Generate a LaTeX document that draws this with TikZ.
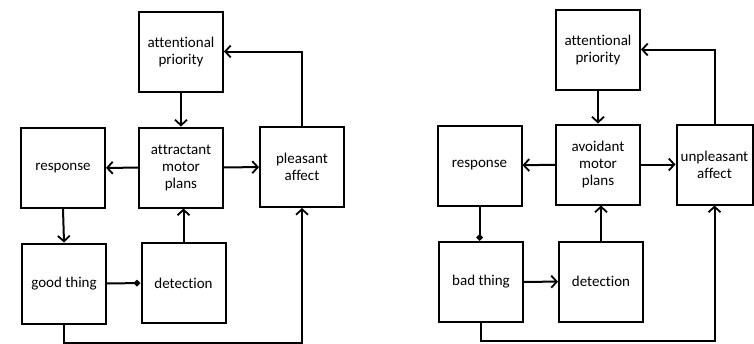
\documentclass[tikz,border=0pt]{standalone}
\usepackage{fontspec}
\setmainfont{Carlito}[Ligatures={NoCommon}]
\usetikzlibrary{arrows.meta}
\begin{document}
\begin{tikzpicture}[x=1pt,y=-1pt,
  box/.style={draw, line width=2pt, minimum width=84pt, minimum height=80pt, inner sep=1pt,
    align=center, font=\fontsize{15}{17}\selectfont, text=black},
  arr/.style={line width=2pt, -{Straight Barb[length=5.5pt,width=12pt,line width=1.8pt]}},
  dia/.style={line width=2pt, -{Diamond[length=7pt,width=7pt]}}]
\useasboundingbox (0,0) rectangle (754,343);
% left diagram
\node[box] (ap1) at (181,51.5) {attentional\\priority};
\node[box] (resp1) at (63,168) {response};
\node[box] (amp1) at (181,167.5) {attractant\\motor\\plans};
\node[box] (pa1) at (302,167) {pleasant\\affect};
\node[box] (good) at (64,283.5) {good thing};
\node[box] (det1) at (183.5,283) {detection};
\draw[arr] (ap1) -- (amp1);
\draw[arr] (amp1) -- (resp1);
\draw[arr] (amp1) -- (pa1);
\draw[arr] (resp1.south) -- (good.north);
\draw[arr] (det1) -- (amp1.south -| det1);
\draw[dia] (good) -- (det1);
\draw[arr] (good.south) -- ++(0,18) -| (pa1.south);
\draw[arr] (pa1.north) |- (ap1.east);
% right diagram
\node[box] (ap2) at (598,49.5) {attentional\\priority};
\node[box] (resp2) at (479.5,165.5) {response};
\node[box] (avm) at (598,164.5) {avoidant\\motor\\plans};
\node[box, minimum width=76pt] (ua) at (714.5,164.5) {unpleasant\\affect};
\node[box] (bad) at (481,282) {bad thing};
\node[box] (det2) at (601,281.5) {detection};
\draw[arr] (ap2) -- (avm);
\draw[arr] (avm) -- (resp2);
\draw[arr] (avm) -- (ua);
\draw[dia] (resp2.south) -- (bad.north -| resp2.south);
\draw[arr] (bad) -- (det2);
\draw[arr] (det2) -- (avm.south -| det2);
\draw[arr] (bad.south) -- ++(0,18) -| (ua.south);
\draw[arr] (ua.north) |- (ap2.east);
\end{tikzpicture}
\end{document}
